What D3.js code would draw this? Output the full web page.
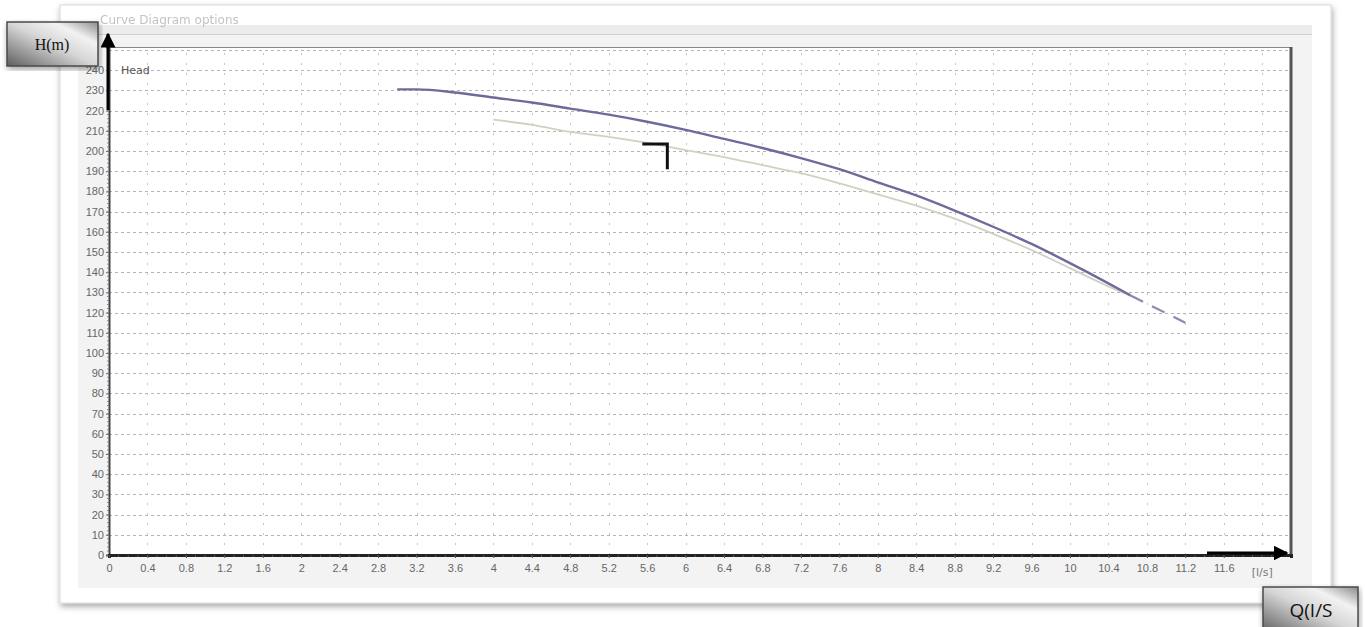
<!DOCTYPE html>
<html>
<head>
    <title>Pump curve H-Q</title>
    <script src="https://d3js.org/d3.v7.min.js"></script>
    <style>
        body { margin: 0; padding: 0; background: #fff; overflow: hidden; }
        svg { display: block; font-family: "DejaVu Sans", Arial, sans-serif; }
    </style>
</head>
<body>
<script>
    // values
    var yTicks = d3.range(0, 241, 10);
    var xTicks = [0, 0.4, 0.8, 1.2, 1.6, 2, 2.4, 2.8, 3.2, 3.6, 4, 4.4, 4.8, 5.2, 5.6, 6, 6.4, 6.8, 7.2, 7.6, 8, 8.4, 8.8, 9.2, 9.6, 10, 10.4, 10.8, 11.2, 11.6];
    var xTickLabels = ["0", "0.4", "0.8", "1.2", "1.6", "2", "2.4", "2.8", "3.2", "3.6", "4", "4.4", "4.8", "5.2", "5.6", "6", "6.4", "6.8", "7.2", "7.6", "8", "8.4", "8.8", "9.2", "9.6", "10", "10.4", "10.8", "11.2", "11.6"];
    var unitLabel = "[l/s]";

    var headQ = [3.0, 3.2, 3.6, 4.0, 4.4, 4.8, 5.2, 5.6, 6.0, 6.4, 6.8, 7.2, 7.6, 8.0, 8.4, 8.8, 9.2, 9.6, 10.0, 10.4, 10.63];
    var headH = [230.5, 230.5, 229, 226.5, 224, 221, 218, 214.5, 210.5, 206, 201.5, 196.5, 191, 184.5, 178, 170.5, 162.5, 154, 144.5, 134.5, 128.5];
    var extQ = [10.63, 11.2];
    var extH = [128.5, 115];
    var head2Q = [4.0, 4.4, 4.8, 5.2, 5.6, 6.0, 6.4, 6.8, 7.2, 7.6, 8.0, 8.4, 8.8, 9.2, 9.6, 10.0, 10.4, 10.7];
    var head2H = [215.5, 213, 209.5, 207, 204, 200.5, 197, 193, 189, 184, 178.5, 173, 166.5, 159, 151, 142, 133, 127];
    var markQ = [5.55, 5.81, 5.81];
    var markH = [203.5, 203.5, 191];

    var width = 1365, height = 627;
    var svg = d3.select("body").append("svg").attr("width", width).attr("height", height);
    var defs = svg.append("defs");

    var sh = defs.append("filter").attr("id", "shadow").attr("x", "-5%").attr("y", "-5%").attr("width", "110%").attr("height", "115%");
    sh.append("feDropShadow").attr("dx", 1).attr("dy", 3).attr("stdDeviation", 3).attr("flood-color", "#000").attr("flood-opacity", 0.35);

    var g1 = defs.append("linearGradient").attr("id", "metal").attr("x1", 0).attr("y1", 1).attr("x2", 1).attr("y2", 0);
    g1.append("stop").attr("offset", "0%").attr("stop-color", "#5e5e5e");
    g1.append("stop").attr("offset", "50%").attr("stop-color", "#d6d6d6");
    g1.append("stop").attr("offset", "75%").attr("stop-color", "#f2f2f2");
    g1.append("stop").attr("offset", "100%").attr("stop-color", "#8a8a8a");

    var arrowDef = defs.append("marker").attr("id", "arr").attr("viewBox", "0 0 10 10")
        .attr("refX", 9).attr("refY", 5).attr("markerWidth", 5).attr("markerHeight", 5)
        .attr("markerUnits", "strokeWidth").attr("orient", "auto");
    arrowDef.append("path").attr("d", "M0,0 L10,5 L0,10 z").attr("fill", "#000");

    // outer card
    svg.append("rect").attr("x", 60).attr("y", 5).attr("width", 1271).attr("height", 598)
        .attr("fill", "#fff").attr("stroke", "#d8d8d8").attr("filter", "url(#shadow)");
    svg.append("rect").attr("x", 78).attr("y", 25).attr("width", 1234).attr("height", 563).attr("fill", "#f3f3f3");
    svg.append("rect").attr("x", 78).attr("y", 25).attr("width", 1234).attr("height", 9).attr("fill", "#ececec");
    svg.append("line").attr("x1", 78).attr("x2", 1312).attr("y1", 34.5).attr("y2", 34.5).attr("stroke", "#cfcfcf");
    svg.append("text").attr("x", 100).attr("y", 24).attr("font-size", 12).attr("fill", "#9a9a9a")
        .attr("opacity", 0.6).text("Curve   Diagram options");

    var x = d3.scaleLinear().domain([0, 12.3]).range([109, 1291]);
    var y = d3.scaleLinear().domain([0, 251.5]).range([555, 47]);

    // plot area
    svg.append("rect").attr("x", x(0)).attr("y", y(251.5)).attr("width", x(12.3) - x(0)).attr("height", y(0) - y(251.5))
        .attr("fill", "#fff");

    var grid = svg.append("g").attr("stroke", "#b4b4b4").attr("stroke-width", 1).attr("stroke-dasharray", "3,3");
    grid.selectAll(".hg").data(d3.range(10, 251, 10)).join("line")
        .attr("x1", x(0)).attr("x2", x(12.3))
        .attr("y1", d => Math.round(y(d)) + 0.5).attr("y2", d => Math.round(y(d)) + 0.5);
    grid.selectAll(".vg").data(xTicks.slice(1).concat([12])).join("line")
        .attr("y1", y(0)).attr("y2", y(251.5))
        .attr("x1", d => Math.round(x(d)) + 0.5).attr("x2", d => Math.round(x(d)) + 0.5)
        .attr("stroke-dasharray", "2,8").attr("stroke", "#c4c4c4");

    // frame
    svg.append("line").attr("x1", x(0)).attr("x2", x(12.3)).attr("y1", y(251.5) + 0.5).attr("y2", y(251.5) + 0.5).attr("stroke", "#888");
    svg.append("line").attr("x1", x(12.3)).attr("x2", x(12.3)).attr("y1", y(251.5)).attr("y2", y(0)).attr("stroke", "#555").attr("stroke-width", 3);

    // y axis
    var yAxis = svg.append("g").attr("transform", "translate(" + x(0) + ",0)")
        .call(d3.axisLeft(y).tickValues(yTicks).tickSize(3).tickPadding(2));
    yAxis.select(".domain").attr("stroke", "#444").attr("stroke-width", 2);
    yAxis.selectAll("text").attr("font-size", 11).attr("fill", "#666");
    yAxis.selectAll(".tick line").attr("stroke", "#666");
    svg.append("g").attr("stroke", "#888").selectAll("line").data(d3.range(0, 251, 2)).join("line")
        .attr("x1", x(0) - 2).attr("x2", x(0)).attr("y1", d => y(d)).attr("y2", d => y(d));

    // x axis
    var xAxis = svg.append("g").attr("transform", "translate(0," + y(0) + ")")
        .call(d3.axisBottom(x).tickValues(xTicks).tickSize(3).tickPadding(6).tickFormat((d, i) => xTickLabels[i]));
    xAxis.select(".domain").attr("stroke", "#222").attr("stroke-width", 3);
    xAxis.selectAll("text").attr("font-size", 11).attr("fill", "#666");
    xAxis.selectAll(".tick line").attr("stroke", "#444");
    svg.append("g").attr("stroke", "#555").selectAll("line").data(d3.range(0, 12.3, 0.1)).join("line")
        .attr("x1", d => x(d)).attr("x2", d => x(d)).attr("y1", y(0)).attr("y2", y(0) + 2);
    svg.append("text").attr("x", x(12)).attr("y", y(0) + 21).attr("text-anchor", "middle")
        .attr("font-size", 11).attr("fill", "#777").text(unitLabel);

    svg.append("text").attr("x", x(0) + 12).attr("y", y(240) + 4).attr("font-size", 11).attr("fill", "#555").text("Head");

    // curves
    var line = d3.line().x(d => x(d[0])).y(d => y(d[1])).curve(d3.curveMonotoneX);
    svg.append("path").datum(d3.zip(head2Q, head2H)).attr("d", line)
        .attr("fill", "none").attr("stroke", "#cfd2c0").attr("stroke-width", 1.8);
    svg.append("path").datum(d3.zip(headQ, headH)).attr("d", line)
        .attr("fill", "none").attr("stroke", "#6c6b9c").attr("stroke-width", 2.4);
    svg.append("path").datum(d3.zip(extQ, extH)).attr("d", line)
        .attr("fill", "none").attr("stroke", "#8a89b0").attr("stroke-width", 2.2).attr("stroke-dasharray", "14,10");

    // black corner mark
    svg.append("path").datum(d3.zip(markQ, markH)).attr("d", d3.line().x(d => x(d[0])).y(d => y(d[1])))
        .attr("fill", "none").attr("stroke", "#111").attr("stroke-width", 3);

    // axis arrows
    svg.append("line").attr("x1", 108).attr("x2", 108).attr("y1", 110).attr("y2", 34)
        .attr("stroke", "#000").attr("stroke-width", 3).attr("marker-end", "url(#arr)");
    svg.append("line").attr("x1", 1207).attr("x2", 1287).attr("y1", 553).attr("y2", 553)
        .attr("stroke", "#000").attr("stroke-width", 3).attr("marker-end", "url(#arr)");

    // label boxes
    svg.append("rect").attr("x", 7).attr("y", 22).attr("width", 91).attr("height", 44)
        .attr("fill", "url(#metal)").attr("stroke", "#4a4a4a").attr("stroke-width", 1.5).attr("filter", "url(#shadow)");
    svg.append("text").attr("x", 52).attr("y", 50).attr("text-anchor", "middle")
        .attr("font-family", "'Liberation Serif', 'DejaVu Serif', serif").attr("font-size", 16).attr("fill", "#111").text("H(m)");
    svg.append("rect").attr("x", 1263).attr("y", 587).attr("width", 95).attr("height", 46)
        .attr("fill", "url(#metal)").attr("stroke", "#4a4a4a").attr("stroke-width", 1.5).attr("filter", "url(#shadow)");
    svg.append("text").attr("x", 1311).attr("y", 617).attr("text-anchor", "middle")
        .attr("font-family", "'Open Sans', 'Liberation Sans', sans-serif").attr("font-size", 19).attr("fill", "#111").text("Q(I/S");
</script>
</body>
</html>
